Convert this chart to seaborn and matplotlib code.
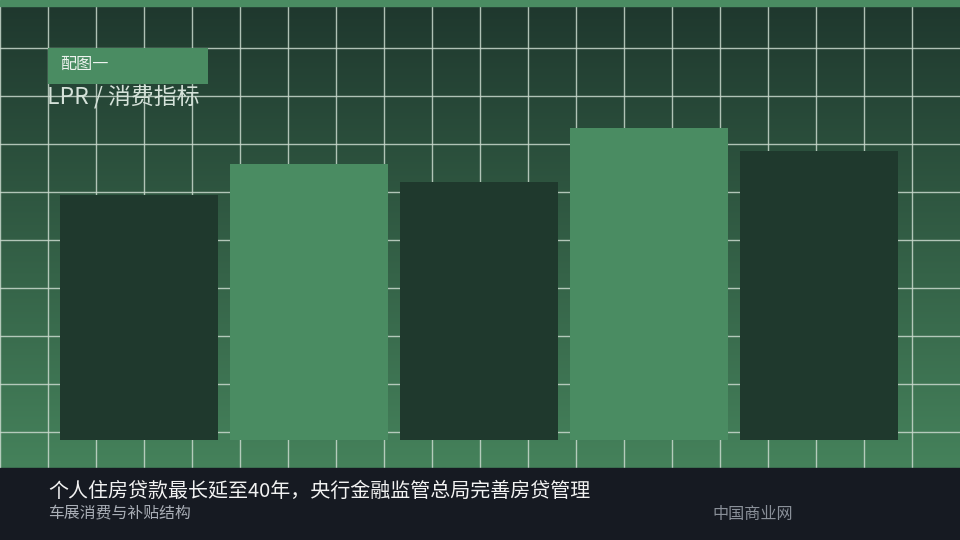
import numpy as np
import pandas as pd
import matplotlib
matplotlib.use('Agg')
import matplotlib.pyplot as plt
import seaborn as sns
from matplotlib.patches import Rectangle

# --- data (arbitrary units, axis 0-100) ---
categories = ["项目1", "项目2", "项目3", "项目4", "项目5"]
values = [55.7, 62.7, 58.6, 70.9, 65.7]
bar_colors = ["#1f392d", "#4a8c62", "#1f392d", "#4a8c62", "#1f392d"]

badge_text = "配图一"
panel_title = "LPR / 消费指标"
headline = "个人住房贷款最长延至40年，央行金融监管总局完善房贷管理"
subtitle = "车展消费与补贴结构"
source = "中国商业网"

sns.set_theme(style="white")
plt.rcParams['font.family'] = ['Noto Sans CJK SC', 'DejaVu Sans']

W, H = 960, 540
fig = plt.figure(figsize=(9.6, 5.4), dpi=100)

# --- background layer in pixel coordinates ---
bg = fig.add_axes([0, 0, 1, 1])
bg.set_xlim(0, W)
bg.set_ylim(H, 0)
bg.axis('off')

top_c = np.array([0x1f, 0x38, 0x2e]) / 255
bot_c = np.array([0x45, 0x82, 0x5b]) / 255
t = np.linspace(0, 1, 256)[:, None]
grad = (top_c[None, :] * (1 - t) + bot_c[None, :] * t)[:, None, :]
bg.imshow(grad, extent=[0, W, 468, 6], aspect='auto', interpolation='bilinear', zorder=0)

# grid every 48 px
for gx in range(0, W, 48):
    bg.plot([gx, gx], [6, 468], color="#c9d9cd", lw=1.0, alpha=0.85, zorder=1)
for gy in range(48, 468, 48):
    bg.plot([0, W], [gy, gy], color="#c9d9cd", lw=1.0, alpha=0.85, zorder=1)

bg.add_patch(Rectangle((0, 0), W, 6, color="#4a8c62", zorder=2))
bg.add_patch(Rectangle((0, 468), W, 72, color="#161a22", zorder=2))

# badge and panel title
bg.add_patch(Rectangle((48, 48), 160, 36, color="#4a8c62", lw=0, zorder=3))
bg.text(60, 64, badge_text, color="#eef3ef", fontsize=11.6, va='center', ha='left', zorder=4)
bg.text(47, 97, panel_title, color="#d5e2d9", fontsize=16.5, va='center', ha='left',
        fontweight='light', zorder=4)

# footer texts
bg.text(48, 491, headline, color="#f2f2f2", fontsize=14.4, va='center', ha='left', zorder=4)
bg.text(48, 513, subtitle, color="#a9aeb6", fontsize=11.4, va='center', ha='left', zorder=4)
bg.text(712, 515, source, color="#8a9099", fontsize=11.6, va='center', ha='left', zorder=4)

# --- bars ---
ax = fig.add_axes([0, (H - 440) / H, 1, 440 / H])
ax.patch.set_alpha(0)
df = pd.DataFrame({"cat": categories, "val": values})
sns.barplot(data=df, x="cat", y="val", hue="cat", palette=bar_colors, saturation=1,
            width=158 / 170, legend=False, linewidth=0, ax=ax)
ax.set_xlim(-139 / 170, (W - 139) / 170)
ax.set_ylim(0, 100)
ax.axis('off')

fig.savefig("out.png", dpi=100)
